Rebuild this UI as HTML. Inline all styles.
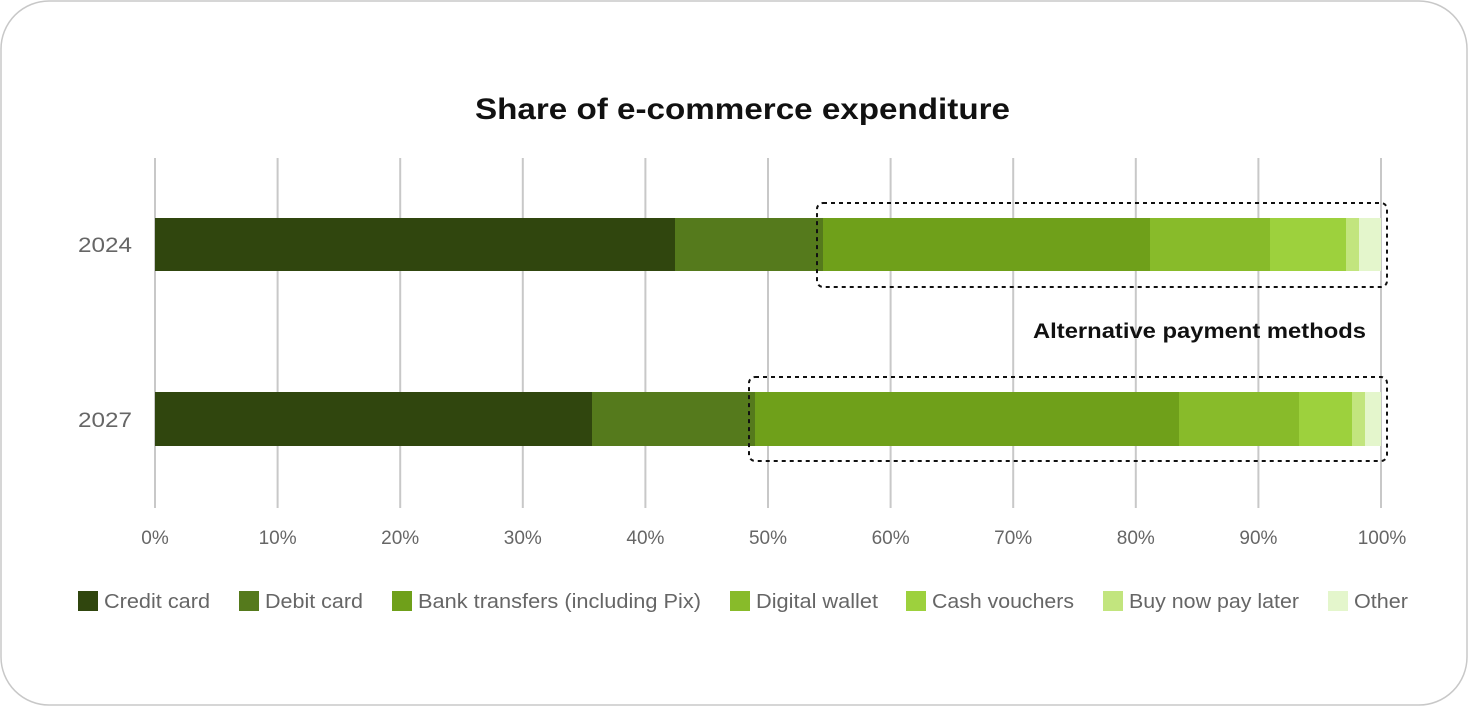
<!DOCTYPE html>
<html><head><style>
body{margin:0;background:#fff;}
svg text{font-family:"Liberation Sans",sans-serif;}
</style></head><body>
<svg width="1468" height="706" xmlns="http://www.w3.org/2000/svg">
<rect x="1" y="1" width="1466" height="704" rx="48" fill="#fff" stroke="#c8c8c8" stroke-width="1.5"/>
<text x="475" y="119" textLength="535" lengthAdjust="spacingAndGlyphs" font-size="30" font-weight="bold" fill="#111">Share of e-commerce expenditure</text>
<g stroke="#c8c8c8" stroke-width="2">
<line x1="155" y1="158" x2="155" y2="508"/><line x1="277.6" y1="158" x2="277.6" y2="508"/><line x1="400.2" y1="158" x2="400.2" y2="508"/><line x1="522.8" y1="158" x2="522.8" y2="508"/><line x1="645.4" y1="158" x2="645.4" y2="508"/><line x1="768" y1="158" x2="768" y2="508"/><line x1="890.6" y1="158" x2="890.6" y2="508"/><line x1="1013.2" y1="158" x2="1013.2" y2="508"/><line x1="1135.8" y1="158" x2="1135.8" y2="508"/><line x1="1258.4" y1="158" x2="1258.4" y2="508"/><line x1="1381" y1="158" x2="1381" y2="508"/>
</g>
<g>
<rect x="155" y="218" width="520" height="53" fill="#30460e"/>
<rect x="675" y="218" width="148" height="53" fill="#557a1c"/>
<rect x="823" y="218" width="327" height="53" fill="#6fa01a"/>
<rect x="1150" y="218" width="120" height="53" fill="#88bb2a"/>
<rect x="1270" y="218" width="76" height="53" fill="#9dd13d"/>
<rect x="1346" y="218" width="13" height="53" fill="#c2e57e"/>
<rect x="1359" y="218" width="22" height="53" fill="#e4f6cc"/>
<rect x="155" y="392" width="437" height="54" fill="#30460e"/>
<rect x="592" y="392" width="163" height="54" fill="#557a1c"/>
<rect x="755" y="392" width="424" height="54" fill="#6fa01a"/>
<rect x="1179" y="392" width="120" height="54" fill="#88bb2a"/>
<rect x="1299" y="392" width="53" height="54" fill="#9dd13d"/>
<rect x="1352" y="392" width="13" height="54" fill="#c2e57e"/>
<rect x="1365" y="392" width="16" height="54" fill="#e4f6cc"/>
</g>
<g fill="none" stroke="#111" stroke-width="2" stroke-dasharray="4 4">
<rect x="817" y="203" width="570" height="84" rx="6"/>
<rect x="749" y="377" width="638" height="84" rx="6"/>
</g>
<text x="1033" y="338" textLength="333" lengthAdjust="spacingAndGlyphs" font-size="21" font-weight="bold" fill="#111">Alternative payment methods</text>
<g font-size="21" fill="#666">
<text x="78" y="252" textLength="54" lengthAdjust="spacingAndGlyphs">2024</text><text x="78" y="427" textLength="54" lengthAdjust="spacingAndGlyphs">2027</text>
</g>
<g font-size="19" fill="#666" text-anchor="middle">
<text x="155" y="544">0%</text><text x="277.6" y="544">10%</text><text x="400.2" y="544">20%</text><text x="522.8" y="544">30%</text><text x="645.4" y="544">40%</text><text x="768" y="544">50%</text><text x="890.6" y="544">60%</text><text x="1013.2" y="544">70%</text><text x="1135.8" y="544">80%</text><text x="1258.4" y="544">90%</text><text x="1382" y="544">100%</text>
</g>
<g font-size="20" fill="#666">
<rect x="78" y="591" width="20" height="20" fill="#30460e"/><text x="104" y="608" textLength="106" lengthAdjust="spacingAndGlyphs">Credit card</text>
<rect x="239" y="591" width="20" height="20" fill="#557a1c"/><text x="265" y="608" textLength="98" lengthAdjust="spacingAndGlyphs">Debit card</text>
<rect x="392" y="591" width="20" height="20" fill="#6fa01a"/><text x="418" y="608" textLength="283" lengthAdjust="spacingAndGlyphs">Bank transfers (including Pix)</text>
<rect x="730" y="591" width="20" height="20" fill="#88bb2a"/><text x="756" y="608" textLength="122" lengthAdjust="spacingAndGlyphs">Digital wallet</text>
<rect x="906" y="591" width="20" height="20" fill="#9dd13d"/><text x="932" y="608" textLength="142" lengthAdjust="spacingAndGlyphs">Cash vouchers</text>
<rect x="1103" y="591" width="20" height="20" fill="#c2e57e"/><text x="1129" y="608" textLength="170" lengthAdjust="spacingAndGlyphs">Buy now pay later</text>
<rect x="1328" y="591" width="20" height="20" fill="#e4f6cc"/><text x="1354" y="608" textLength="54" lengthAdjust="spacingAndGlyphs">Other</text>
</g>
</svg>
</body></html>
